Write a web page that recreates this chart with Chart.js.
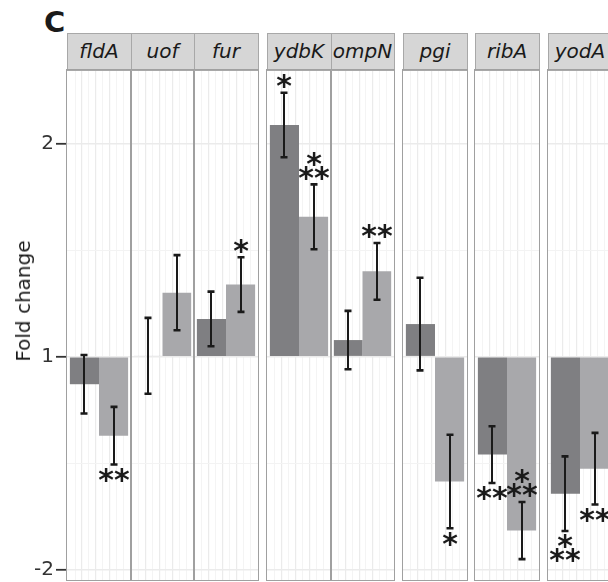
<!DOCTYPE html>
<html><head><meta charset="utf-8">
<script src="https://cdn.jsdelivr.net/npm/chart.js@4.4.1/dist/chart.umd.min.js"></script>
<style>
html,body{margin:0;padding:0;background:#fff;}
#wrap{position:relative;width:608px;height:582px;overflow:hidden;font-family:"DejaVu Sans";background:#fff;}
.strip{position:absolute;box-sizing:border-box;background:#d6d6d6;border:1px solid #a8a8a8;font-style:italic;font-size:20px;color:#1a1a1a;text-align:center;line-height:35px;white-space:nowrap;overflow:hidden;}
.pborder{position:absolute;box-sizing:border-box;border:1.5px solid #a0a0a0;pointer-events:none;}
canvas{position:absolute;}
</style></head><body><div id="wrap">
<div style="position:absolute;left:44px;top:7px;font:bold 29px 'DejaVu Sans';line-height:30px;color:#1a1a1a">C</div>
<div style="position:absolute;left:0;top:0;font:20px 'DejaVu Sans';line-height:20px;color:#1a1a1a;white-space:nowrap;transform-origin:0 0;transform:translate(23px,301px) rotate(-90deg) translate(-50%,-50%)">Fold change</div>
</div>
<script>
// ---- data (log2 fold change; axis labels show signed fold change) ----
const genes = ['fldA','uof','fur','ydbK','ompN','pgi','ribA','yodA'];
const facetGroup = [0,0,0,1,1,2,3,4];
const conditions = ['condition 1','condition 2'];
const log2FcDark  = [-0.129, 0.004, 0.177, 1.086, 0.078, 0.153, -0.459, -0.642];
const semDark     = [ 0.137, 0.178, 0.128, 0.151, 0.137, 0.217,  0.133,  0.175];
const log2FcLight = [-0.370, 0.300, 0.338, 0.656, 0.400, -0.585, -0.815, -0.525];
const semLight    = [ 0.135, 0.176, 0.128, 0.152, 0.133, 0.219,  0.134,  0.168];
const sigDark      = ['', '', '', '*', '', '', '**', '*\n**'];
const sigSideDark  = ['', '', '', 'above', '', '', 'below', 'below'];
const sigLight     = ['**', '', '*', '*\n**', '**', '*', '*\n**', '**'];
const sigSideLight = ['below', '', 'above', 'above', 'above', 'below', 'above', 'below'];
const yTickValues = [-1, 0, 1];
const yTickLabels = ['-2', '1', '2'];
const yGridValues = [-1, -0.5, 0, 0.5, 1];

// ---- styles / layout ----
const DARK = '#7f7f82', LIGHT = '#a8a8ab', INK = '#1a1a1a';
const YMIN = -1.0467, YMAX = 1.3439;
const PANEL_TOP = 70, PANEL_H = 510, STRIP_TOP = 33;
const LEFT0 = 66.7, PW = 63.8, GAP = 8.6;
const wrap = document.getElementById('wrap');

const errPlugin = {
  id: 'errs',
  afterDatasetsDraw(chart) {
    const i = chart.options.panelIndex;
    const ctx = chart.ctx, y = chart.scales.y;
    const means = [log2FcDark[i], log2FcLight[i]];
    const sems = [semDark[i], semLight[i]];
    const sigs = [sigDark[i], sigLight[i]];
    const sides = [sigSideDark[i], sigSideLight[i]];
    ctx.save();
    for (let j = 0; j < 2; j++) {
      const x = Math.round(chart.getDatasetMeta(j).data[0].x);
      const top = y.getPixelForValue(means[j] + sems[j]);
      const bot = y.getPixelForValue(means[j] - sems[j]);
      ctx.strokeStyle = INK;
      ctx.lineWidth = 2;
      ctx.beginPath(); ctx.moveTo(x, top); ctx.lineTo(x, bot); ctx.stroke();
      ctx.lineWidth = 2.6;
      ctx.beginPath();
      ctx.moveTo(x - 3.5, top); ctx.lineTo(x + 3.5, top);
      ctx.moveTo(x - 3.5, bot); ctx.lineTo(x + 3.5, bot);
      ctx.stroke();
      if (sigs[j]) {
        ctx.font = 'bold 30px "DejaVu Sans"';
        ctx.fillStyle = INK;
        ctx.textAlign = 'center';
        ctx.textBaseline = 'alphabetic';
        const m = ctx.measureText('*');
        const shift = (m.actualBoundingBoxAscent - m.actualBoundingBoxDescent) / 2;
        const lines = sigs[j].split('\n');
        const n = lines.length;
        lines.forEach((ln, k) => {
          let cy;
          if (sides[j] === 'above') cy = top - 11 - 14 * (n - 1 - k);
          else cy = bot + 11 + 14 * k;
          ctx.fillText(ln, x, cy + shift);
        });
      }
    }
    ctx.restore();
  }
};

let gPrev = facetGroup[0], cursor = LEFT0;
genes.forEach((g, i) => {
  if (i > 0) { cursor += PW; if (facetGroup[i] !== gPrev) cursor += GAP; gPrev = facetGroup[i]; }
  const L = Math.round(cursor), R = Math.round(cursor + PW), W = R - L;
  const withAxis = i === 0;
  const axisW = withAxis ? L : 0;

  const strip = document.createElement('div');
  strip.className = 'strip';
  strip.style.left = (L - 0.5) + 'px'; strip.style.top = STRIP_TOP + 'px';
  strip.style.width = (W + 1) + 'px'; strip.style.height = (PANEL_TOP - STRIP_TOP + 0.5) + 'px';
  strip.textContent = g;
  wrap.appendChild(strip);

  const cv = document.createElement('canvas');
  cv.width = W + axisW; cv.height = PANEL_H;
  cv.style.left = (L - axisW) + 'px'; cv.style.top = PANEL_TOP + 'px';
  cv.style.width = (W + axisW) + 'px'; cv.style.height = PANEL_H + 'px';
  wrap.insertBefore(cv, wrap.firstChild);

  const border = document.createElement('div');
  border.className = 'pborder';
  border.style.left = (L - 0.75) + 'px'; border.style.top = (PANEL_TOP - 0.75) + 'px';
  border.style.width = (W + 1.5) + 'px'; border.style.height = (PANEL_H + 1.5) + 'px';
  wrap.appendChild(border);

  const chart = new Chart(cv, {
    type: 'bar',
    data: {
      labels: [g],
      datasets: [
        { label: conditions[0], data: [[0, log2FcDark[i]]], backgroundColor: DARK,
          borderWidth: 0, borderSkipped: false, barPercentage: 1, categoryPercentage: 0.91 },
        { label: conditions[1], data: [[0, log2FcLight[i]]], backgroundColor: LIGHT,
          borderWidth: 0, borderSkipped: false, barPercentage: 1, categoryPercentage: 0.91 }
      ]
    },
    options: {
      panelIndex: i,
      responsive: false,
      animation: false,
      devicePixelRatio: 1,
      layout: { padding: 0, autoPadding: false },
      plugins: { legend: { display: false }, tooltip: { enabled: false }, title: { display: false } },
      scales: {
        x: { display: false },
        xg: {
          type: 'linear', position: 'bottom', min: 0, max: 8,
          afterBuildTicks: s => { s.ticks = [1,2,3,4,5,6,7].map(v => ({ value: v })); },
          afterFit: s => { s.height = 0; s.paddingLeft = 0; s.paddingRight = 0; s.paddingTop = 0; s.paddingBottom = 0; },
          ticks: { display: false },
          border: { display: false },
          grid: {
            drawTicks: false,
            color: c => (c.tick && c.tick.value % 2 === 0) ? '#ebebeb' : '#f3f3f3',
            lineWidth: c => (c.tick && c.tick.value % 2 === 0) ? 1.2 : 0.9
          }
        },
        y: {
          min: YMIN, max: YMAX,
          afterBuildTicks: s => { s.ticks = yGridValues.map(v => ({ value: v })); },
          afterFit: s => { s.width = axisW; s.paddingTop = 0; s.paddingBottom = 0; s.paddingLeft = 0; s.paddingRight = 0; },
          border: { display: false },
          ticks: {
            display: withAxis,
            padding: 2,
            color: '#333333',
            font: { family: 'DejaVu Sans', size: 20 },
            callback: v => { const k = yTickValues.indexOf(v); return k >= 0 ? yTickLabels[k] : ''; }
          },
          grid: {
            drawTicks: withAxis,
            tickLength: 11,
            tickWidth: 1.8,
            tickColor: c => (c.tick && yTickValues.includes(c.tick.value)) ? '#333333' : 'rgba(0,0,0,0)',
            color: c => (c.tick && Number.isInteger(c.tick.value)) ? '#ebebeb' : '#f3f3f3',
            lineWidth: c => (c.tick && Number.isInteger(c.tick.value)) ? 1.6 : 1
          }
        }
      }
    },
    plugins: [errPlugin]
  });

  // keep the plotting area exactly on the panel rectangle
  const ca = chart.chartArea;
  const padT = Math.round(ca.top), padB = Math.round(PANEL_H - ca.bottom);
  if (padT !== 0 || padB !== 0) {
    const H = PANEL_H + padT + padB;
    cv.style.top = (PANEL_TOP - padT) + 'px';
    chart.resize(W + axisW, H);
  }
});
</script>
</body></html>
